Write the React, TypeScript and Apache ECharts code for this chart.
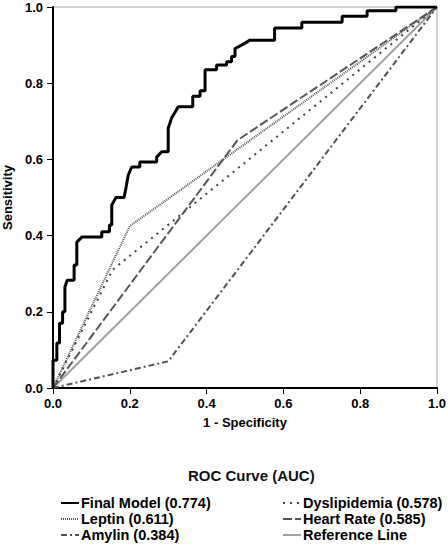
import React, { useEffect, useRef } from "react";
import * as echarts from "echarts";

const xTicks = [0, 0.2, 0.4, 0.6, 0.8, 1.0];

const finalModel: [number, number][] = [
  [0, 0], [0, 0.073], [0.01, 0.073], [0.01, 0.118], [0.017, 0.118], [0.017, 0.17],
  [0.025, 0.17], [0.025, 0.2], [0.031, 0.2], [0.031, 0.265], [0.037, 0.283],
  [0.055, 0.283], [0.055, 0.323], [0.062, 0.323], [0.062, 0.383], [0.075, 0.396],
  [0.127, 0.396], [0.127, 0.41], [0.147, 0.41], [0.147, 0.428], [0.153, 0.428],
  [0.153, 0.48], [0.164, 0.5], [0.185, 0.5], [0.19, 0.525], [0.196, 0.559],
  [0.205, 0.58], [0.226, 0.58], [0.226, 0.593], [0.27, 0.593], [0.27, 0.606],
  [0.283, 0.62], [0.3, 0.62], [0.3, 0.682], [0.309, 0.709], [0.318, 0.724],
  [0.326, 0.738], [0.364, 0.738], [0.364, 0.766], [0.383, 0.766], [0.383, 0.78],
  [0.396, 0.78], [0.396, 0.835], [0.426, 0.835], [0.426, 0.848], [0.452, 0.848],
  [0.452, 0.856], [0.465, 0.856], [0.465, 0.87], [0.474, 0.87], [0.474, 0.891],
  [0.491, 0.9], [0.513, 0.913], [0.577, 0.913], [0.577, 0.945], [0.648, 0.945],
  [0.648, 0.96], [0.753, 0.96], [0.753, 0.976], [0.818, 0.976], [0.818, 0.99],
  [0.893, 0.99], [0.893, 1], [1, 1],
];
const leptin: [number, number][] = [[0, 0], [0.2, 0.425], [1, 1]];
const amylin: [number, number][] = [[0, 0], [0.3, 0.07], [1, 1]];
const dyslipidemia: [number, number][] = [[0, 0], [0.155, 0.31], [1, 1]];
const heartRate: [number, number][] = [[0, 0], [0.48, 0.65], [1, 1]];
const referenceLine: [number, number][] = [[0, 0], [1, 1]];

const names = [
  "Final Model (0.774)",
  "Leptin (0.611)",
  "Amylin (0.384)",
  "Dyslipidemia (0.578)",
  "Heart Rate (0.585)",
  "Reference Line",
];

const FONT = "'Liberation Sans', Arial, sans-serif";

export default function App() {
  const ref = useRef<HTMLDivElement>(null);
  useEffect(() => {
    if (!ref.current) return;
    const chart = echarts.init(ref.current, undefined, { renderer: "svg" });
    const mk = (name: string, data: [number, number][], color: string, width: number, type: any, z: number) => ({
      name,
      type: "line",
      data,
      showSymbol: false,
      symbol: "none",
      lineStyle: { color, width, type },
      itemStyle: { color },
      z,
    });
    const legendBase = {
      orient: "vertical",
      top: 495,
      height: 60,
      padding: 0,
      itemWidth: 18,
      itemHeight: 10,
      itemGap: 0,
      itemStyle: { opacity: 0 },
      textStyle: {
        fontFamily: FONT,
        fontSize: 14.5,
        fontWeight: "bold",
        color: "#000",
        lineHeight: 16,
        padding: [0, 0, 0, -3],
      },
    };
    chart.setOption({
      animation: false,
      textStyle: { fontFamily: FONT },
      title: {
        text: "ROC Curve (AUC)",
        left: 188,
        top: 468,
        padding: 0,
        textStyle: { fontFamily: FONT, fontSize: 15, fontWeight: "bold", color: "#111" },
      },
      legend: [
        { ...legendBase, data: [names[0], names[1], names[2]], left: 60 },
        { ...legendBase, data: [names[3], names[4], names[5]], left: 282 },
      ],
      grid: {
        left: 53,
        top: 7,
        right: 11,
        bottom: 157,
        show: true,
        borderColor: "#a8a8a8",
        borderWidth: 1,
        containLabel: false,
        outerBoundsMode: "none",
      },
      xAxis: {
        type: "value",
        min: 0,
        max: 1,
        interval: 0.2,
        name: "1 - Specificity",
        nameLocation: "middle",
        nameGap: 28,
        nameTextStyle: { fontFamily: FONT, fontSize: 13, fontWeight: "bold", color: "#000" },
        axisLine: { show: true, lineStyle: { color: "#000", width: 2 } },
        axisTick: { show: true, length: 6, lineStyle: { color: "#000", width: 1 } },
        axisLabel: {
          fontFamily: FONT,
          fontSize: 13,
          fontWeight: "bold",
          color: "#000",
          margin: 9,
          formatter: (v: number) => (xTicks.includes(Math.round(v * 10) / 10) ? v.toFixed(1) : ""),
        },
        splitLine: { show: false },
      },
      yAxis: {
        type: "value",
        min: 0,
        max: 1,
        interval: 0.2,
        name: "Sensitivity",
        nameLocation: "middle",
        nameGap: 38,
        nameTextStyle: { fontFamily: FONT, fontSize: 13, fontWeight: "bold", color: "#000" },
        axisLine: { show: true, lineStyle: { color: "#000", width: 2 } },
        axisTick: { show: true, length: 6, lineStyle: { color: "#000", width: 1 } },
        axisLabel: {
          fontFamily: FONT,
          fontSize: 13,
          fontWeight: "bold",
          color: "#000",
          margin: 10,
          formatter: (v: number) => v.toFixed(1),
        },
        splitLine: { show: false },
      },
      series: [
        mk(names[5], referenceLine, "#a0a0a0", 2, "solid", 1),
        mk(names[2], amylin, "#505050", 2, [6, 3, 2, 3], 2),
        mk(names[3], dyslipidemia, "#404040", 2, [2, 5], 3),
        mk(names[4], heartRate, "#555555", 2, [9, 3], 4),
        mk(names[1], leptin, "#555555", 2, [1, 1], 5),
        mk(names[0], finalModel, "#000000", 3, "solid", 6),
      ],
    });
    return () => chart.dispose();
  }, []);
  return (
    <div
      ref={ref}
      style={{ position: "fixed", left: 0, top: 0, width: 448, height: 545, background: "#fff" }}
    />
  );
}
